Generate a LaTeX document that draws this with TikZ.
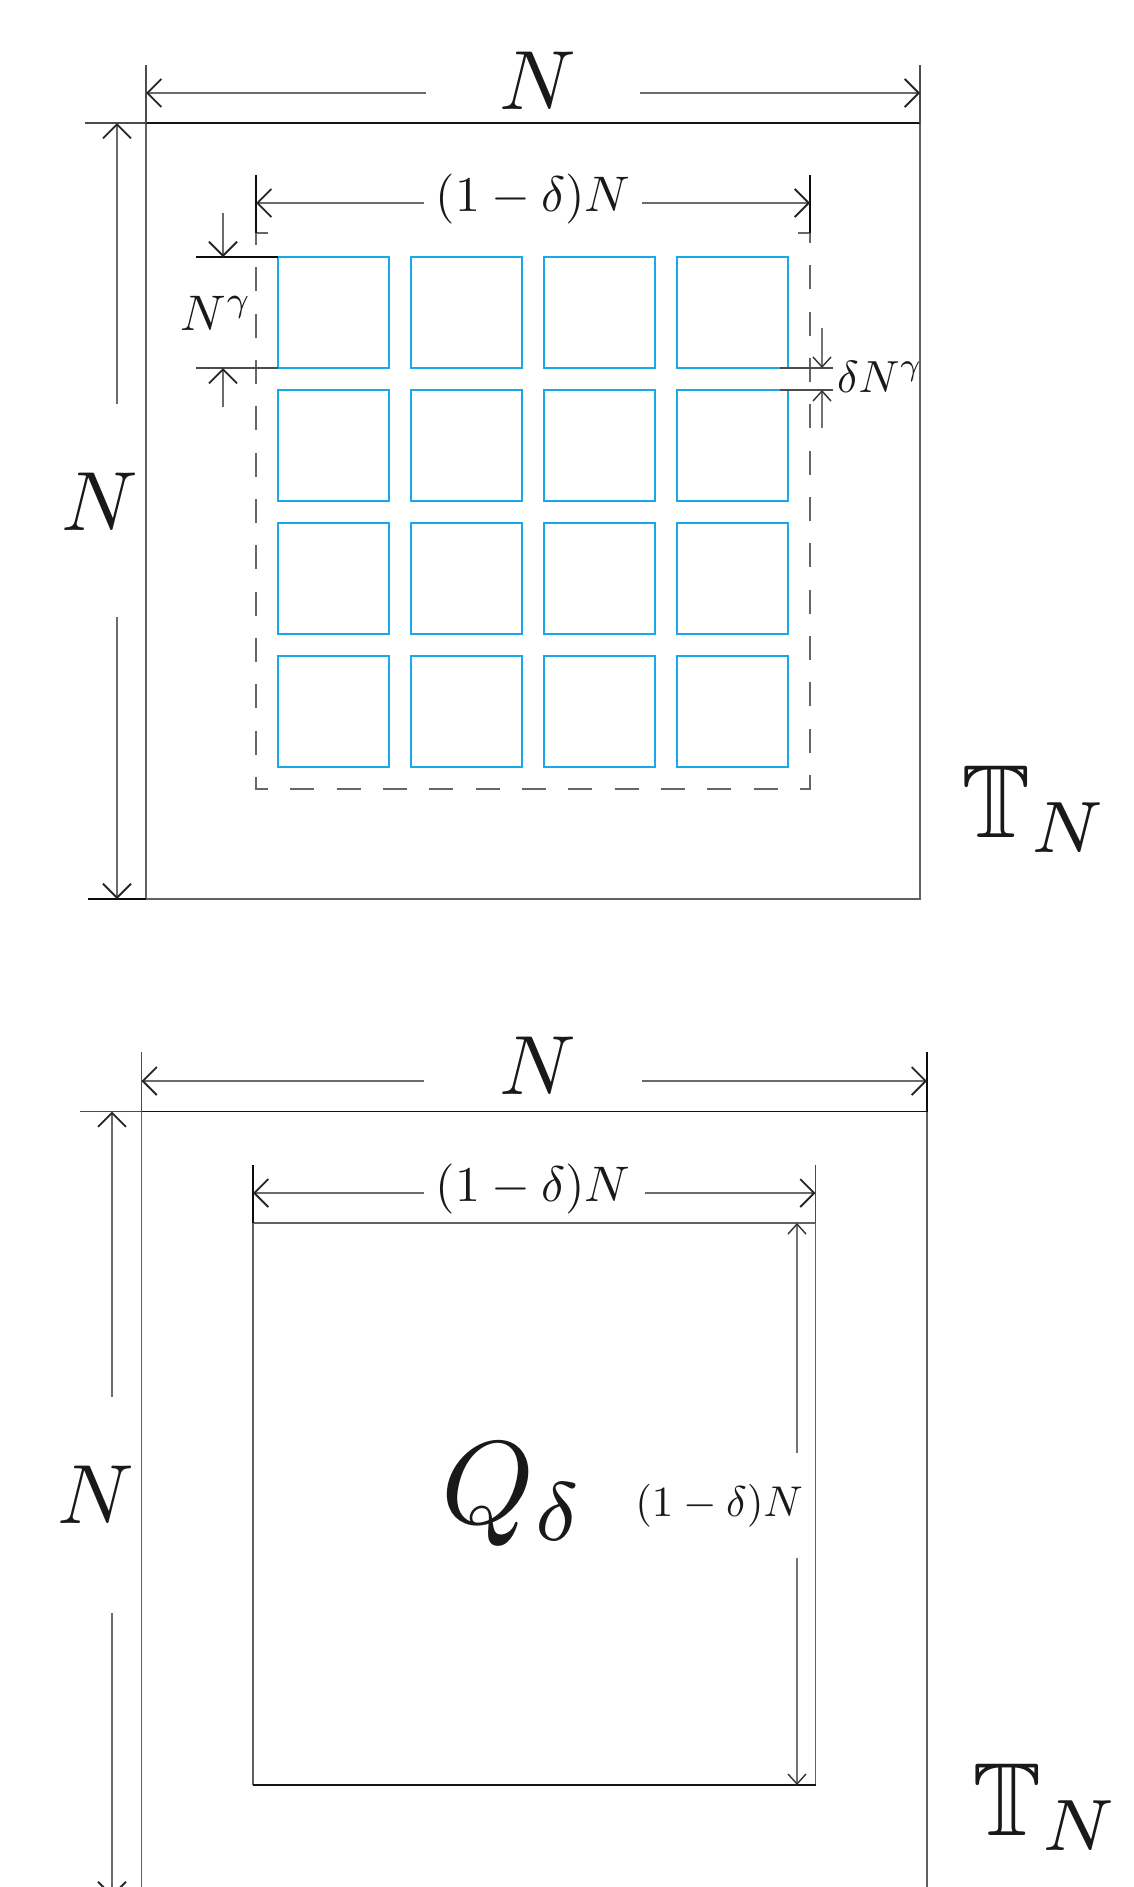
\documentclass[tikz,border=0pt]{standalone}
\usepackage{amssymb}
\usetikzlibrary{arrows.meta}
\definecolor{cellblue}{RGB}{25,168,232}
\tikzset{
 frame/.style={draw=black!62, line width=1.7pt},
 frametop/.style={draw=black!92, line width=1.7pt},
 ext/.style={draw=black!70, line width=1.6pt},
 extdark/.style={draw=black!95, line width=1.6pt},
 dimline/.style={draw=black!58, line width=1.8pt, -{Straight Barb[length=14pt,width=28pt,line width=1.8pt,color=black!85]}},
 dimsmall/.style={draw=black!55, line width=1.5pt, -{Straight Barb[length=10pt,width=18pt,line width=1.4pt,color=black!80]}},
 cell/.style={draw=cellblue, line width=1.6pt},
 guide/.style={draw=black!60, line width=1.4pt, dash pattern=on 24pt off 22.33pt},
 lbl/.style={inner sep=0pt, outer sep=0pt, text=black!90},
 big/.style={lbl, scale=8.4},
 mid/.style={lbl, scale=5.0},
}
\begin{document}
\begin{tikzpicture}[x=1pt,y=-1pt]
\useasboundingbox (0,0) rectangle (1133,1887);
\clip (0,0) rectangle (1133,1887);

% ================= TOP FIGURE =================
\coordinate (A1) at (146,123);
\coordinate (A2) at (920,123);
\coordinate (A3) at (920,899);
\coordinate (A4) at (146,899);
\draw[frame] (A2) -- (A3) -- (A4) -- (A1);
\draw[frametop] (A1) -- (A2);

% top dimension N
\coordinate (a1e) at (146,65);
\coordinate (a2e) at (920,65);
\draw[ext] (a1e) -- (A1);
\draw[ext] (a2e) -- (A2);
\node[big] (tN) at (538,81) {$N$};
\coordinate (tNl) at (426,93);
\coordinate (tNlt) at (146,93);
\coordinate (tNr) at (640,93);
\coordinate (tNrt) at (920,93);
\draw[dimline] (tNl) -- (tNlt);
\draw[dimline] (tNr) -- (tNrt);

% left dimension N
\coordinate (lh1) at (85,123);
\coordinate (lh2) at (88,899);
\draw[ext] (lh1) -- (A1);
\draw[extdark] (lh2) -- (A4);
\coordinate (lvu) at (117,404);
\coordinate (lvut) at (117,123);
\coordinate (lvd) at (117,617);
\coordinate (lvdt) at (117,899);
\draw[dimline] (lvu) -- (lvut);
\draw[dimline] (lvd) -- (lvdt);
\node[big] (lN) at (100,502) {$N$};

% dashed region
\coordinate (G0) at (268,233);
\coordinate (G1) at (256,233);
\coordinate (G2) at (256,789);
\coordinate (G3) at (810,789);
\coordinate (G4) at (810,233);
\coordinate (G5) at (798,233);
\draw[guide] (G0) -- (G1) -- (G2) -- (G3) -- (G4) -- (G5);

% blue cells
\foreach \i in {0,...,3}{
  \foreach \j in {0,...,3}{
    \draw[cell] ({278+133*\i},{257+133*\j}) rectangle ++(111,111);
  }
}

% (1-delta)N dimension
\coordinate (g1e) at (256,175);
\coordinate (g4e) at (810,175);
\draw[extdark] (g1e) -- (G1);
\draw[extdark] (g4e) -- (G4);
\node[mid] (tQ) at (533,199) {$(1-\delta)N$};
\coordinate (tQl) at (424,203);
\coordinate (tQlt) at (256,203);
\coordinate (tQr) at (642,203);
\coordinate (tQrt) at (810,203);
\draw[dimline] (tQl) -- (tQlt);
\draw[dimline] (tQr) -- (tQrt);

% N^gamma dimension
\coordinate (ng1) at (196,257);
\coordinate (ng1e) at (278,257);
\coordinate (ng2) at (196,368);
\coordinate (ng2e) at (278,368);
\draw[extdark] (ng1) -- (ng1e);
\draw[ext] (ng2) -- (ng2e);
\coordinate (nga) at (223,213);
\coordinate (ngat) at (223,257);
\coordinate (ngb) at (223,407);
\coordinate (ngbt) at (223,368);
\draw[dimline] (nga) -- (ngat);
\draw[dimline] (ngb) -- (ngbt);
\node[mid, anchor=base east] (lNg) at (252,330) {$N^{\gamma}$};

% delta N^gamma dimension
\coordinate (dg1) at (780,368);
\coordinate (dg1e) at (833,368);
\coordinate (dg2) at (780,390);
\coordinate (dg2e) at (833,390);
\draw[ext] (dg1) -- (dg1e);
\draw[ext] (dg2) -- (dg2e);
\coordinate (dga) at (822,328);
\coordinate (dgat) at (822,368);
\coordinate (dgb) at (822,428);
\coordinate (dgbt) at (822,390);
\draw[dimsmall] (dga) -- (dgat);
\draw[dimsmall] (dgb) -- (dgbt);
\node[lbl, scale=4.5, anchor=base west] (lDg) at (837,392) {$\delta N^{\gamma}$};

% torus label
\node[lbl, scale=10.4, anchor=base west] (T1) at (961,837) {$\mathbb{T}_N$};

% ================= BOTTOM FIGURE =================
\coordinate (B1) at (141.5,1111.5);
\coordinate (B2) at (927,1111.5);
\coordinate (B3) at (927,1897);
\coordinate (B4) at (141.5,1897);
\draw[frame] (B2) -- (B3) -- (B4) -- (B1);
\draw[frametop] (B1) -- (B2);

% top dimension N
\coordinate (b1e) at (141.5,1052);
\coordinate (b2e) at (927,1052);
\draw[ext] (b1e) -- (B1);
\draw[extdark] (b2e) -- (B2);
\node[big] (bN) at (538,1066) {$N$};
\coordinate (bNl) at (424,1081);
\coordinate (bNlt) at (141.5,1081);
\coordinate (bNr) at (642,1081);
\coordinate (bNrt) at (927,1081);
\draw[dimline] (bNl) -- (bNlt);
\draw[dimline] (bNr) -- (bNrt);

% left dimension N
\coordinate (bh1) at (80,1111.5);
\draw[ext] (bh1) -- (B1);
\coordinate (bvu) at (112,1397);
\coordinate (bvut) at (112,1111.5);
\coordinate (bvd) at (112,1613);
\coordinate (bvdt) at (112,1897);
\draw[dimline] (bvu) -- (bvut);
\draw[dimline] (bvd) -- (bvdt);
\node[big] (blN) at (96,1495) {$N$};

% inner square Q_delta
\coordinate (C1) at (253,1223);
\coordinate (C2) at (815.5,1223);
\coordinate (C3) at (815.5,1785);
\coordinate (C4) at (253,1785);
\draw[frame] (C4) -- (C1) -- (C2) -- (C3);
\draw[frametop] (C3) -- (C4);

% top (1-delta)N dimension
\coordinate (c1e) at (253,1165);
\coordinate (c2e) at (815.5,1165);
\draw[extdark] (c1e) -- (C1);
\draw[ext] (c2e) -- (C2);
\node[mid] (bQ) at (533,1189) {$(1-\delta)N$};
\coordinate (bQl) at (424,1193);
\coordinate (bQlt) at (253,1193);
\coordinate (bQr) at (645,1193);
\coordinate (bQrt) at (815.5,1193);
\draw[dimline] (bQl) -- (bQlt);
\draw[dimline] (bQr) -- (bQrt);

% right vertical (1-delta)N dimension
\coordinate (rvu) at (797,1453);
\coordinate (rvut) at (797,1223);
\coordinate (rvd) at (797,1558);
\coordinate (rvdt) at (797,1785);
\draw[dimsmall] (rvu) -- (rvut);
\draw[dimsmall] (rvd) -- (rvdt);
\node[lbl, scale=4.3] (rQ) at (719,1506) {$(1-\delta)N$};

% Q_delta label
\node[lbl, scale=11.8, anchor=base west] (Qd) at (441,1523) {$Q_{\delta}$};

% torus label
\node[lbl, scale=10.4, anchor=base west] (T2) at (972,1835) {$\mathbb{T}_N$};

\end{tikzpicture}
\end{document}
